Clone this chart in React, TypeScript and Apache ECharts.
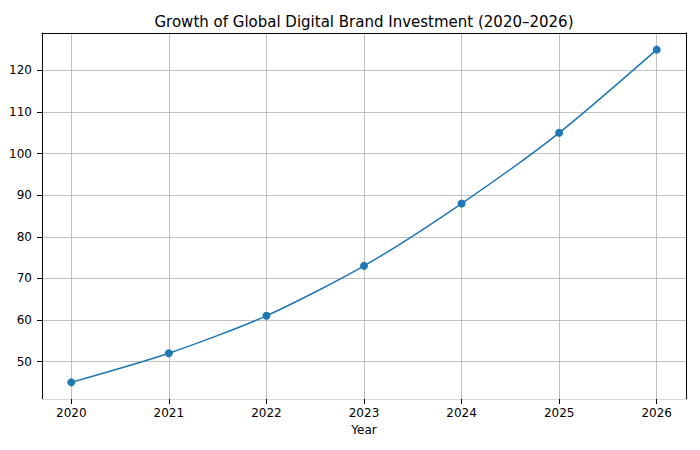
import React, { useEffect, useRef } from "react";
import * as echarts from "echarts";

const years = [2020, 2021, 2022, 2023, 2024, 2025, 2026];
const investment = [45, 52, 61, 73, 88, 105, 125];
const yTicks = [50, 60, 70, 80, 90, 100, 110, 120];

const FONT = "DejaVu Sans";
const BLUE = "#1f77b4";

const App: React.FC = () => {
  const chartRef = useRef<HTMLDivElement>(null);

  useEffect(() => {
    document.body.style.margin = "0";
    if (!chartRef.current) return;
    const chart = echarts.init(chartRef.current, null, { renderer: "svg" });

    const hiddenAxisBits = {
      axisTick: { show: false },
      axisLabel: { show: false },
      splitLine: { show: false },
    };

    chart.setOption({
      animation: false,
      backgroundColor: "#fff",
      title: {
        text: "Growth of Global Digital Brand Investment (2020–2026)",
        left: 359,
        top: 9,
        textAlign: "center",
        textStyle: { fontFamily: FONT, fontSize: 15, fontWeight: "normal", color: "#000" },
      },
      grid: { left: 42, right: 14, top: 33, bottom: 51 },
      xAxis: [
        {
          type: "value",
          min: 2019.7,
          max: 2026.3,
          name: "Year",
          nameLocation: "middle",
          nameGap: 25,
          nameTextStyle: { fontFamily: FONT, fontSize: 12, color: "#000" },
          axisLine: { show: true, lineStyle: { color: "#d8d8d8", width: 1 } },
          axisTick: {
            show: true,
            customValues: years,
            length: 5,
            lineStyle: { color: "#000" },
          },
          axisLabel: {
            customValues: years,
            formatter: (v: number) => String(v),
            fontFamily: FONT,
            fontSize: 12,
            color: "#000",
            margin: 8,
          },
          splitLine: { show: true, lineStyle: { color: "#b0b0b0", width: 0.8 } },
        },
        {
          type: "value",
          position: "top",
          min: 2019.7,
          max: 2026.3,
          axisLine: { show: true, lineStyle: { color: "#000", width: 1 } },
          ...hiddenAxisBits,
        },
      ],
      yAxis: [
        {
          type: "value",
          min: 41,
          max: 129,
          axisLine: { show: true, lineStyle: { color: "#000", width: 1 } },
          axisTick: {
            show: true,
            customValues: yTicks,
            length: 5,
            lineStyle: { color: "#000" },
          },
          axisLabel: {
            customValues: yTicks,
            fontFamily: FONT,
            fontSize: 12,
            color: "#000",
            margin: 10,
          },
          splitLine: { show: true, lineStyle: { color: "#b0b0b0", width: 0.8 } },
        },
        {
          type: "value",
          position: "right",
          min: 41,
          max: 129,
          axisLine: { show: true, lineStyle: { color: "#000", width: 1 } },
          ...hiddenAxisBits,
        },
      ],
      series: [
        {
          type: "line",
          data: years.map((y, i) => [y, investment[i]]),
          smooth: 0.25,
          symbol: "circle",
          symbolSize: 8,
          itemStyle: { color: BLUE },
          lineStyle: { color: BLUE, width: 1.5 },
        },
      ],
    });

    return () => chart.dispose();
  }, []);

  return <div ref={chartRef} style={{ width: 700, height: 450 }} />;
};

export default App;
